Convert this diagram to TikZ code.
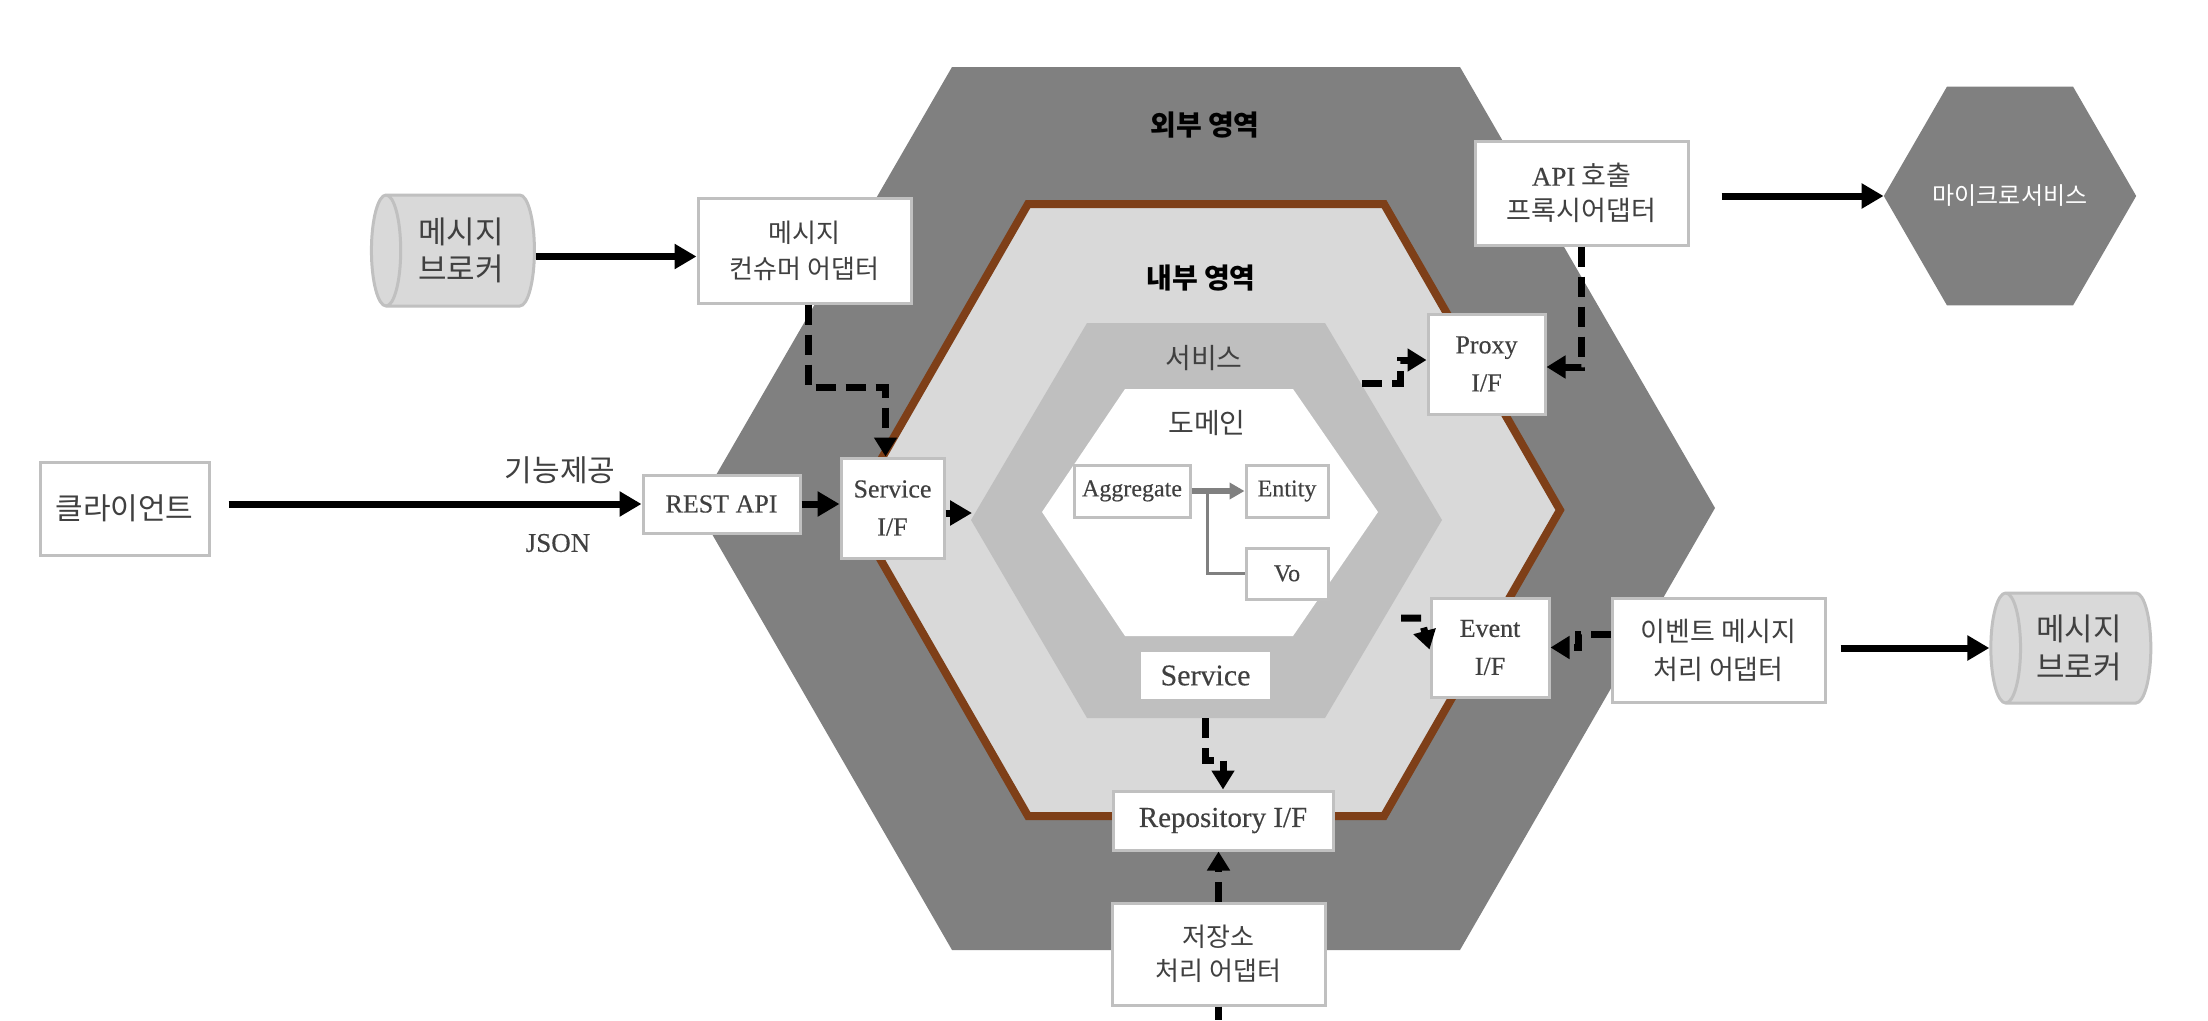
\documentclass[tikz,border=0pt]{standalone}
\usepackage{fontspec}
\setmainfont{Liberation Serif}[FakeBold=0.3]
\newfontfamily\kr{Noto Sans CJK KR}
\usetikzlibrary{arrows.meta,shapes.geometric}
\definecolor{outerg}{HTML}{808080}
\definecolor{innerg}{HTML}{D9D9D9}
\definecolor{svcg}{HTML}{BFBFBF}
\definecolor{brd}{HTML}{C0C0C0}
\definecolor{hexbrown}{HTML}{7E3F18}
\definecolor{txt}{HTML}{404040}
\newcommand\fk[2]{\kr\fontsize{#1}{#2}\selectfont}
\newcommand\fs[2]{\rmfamily\fontsize{#1}{#2}\selectfont}
\begin{document}
\begin{tikzpicture}[x=1pt,y=-1pt,
  box/.style={draw=brd, line width=3pt, fill=white, inner sep=0pt, text=txt, align=center},
  cyl/.style={shape=cylinder, shape border rotate=180, aspect=0.45, draw=brd, line width=3pt, fill=innerg, inner sep=0pt, text=txt, align=center},
  arr/.style={line width=7pt, -{Triangle[length=22pt,width=24pt]}},
  darr/.style={line width=7pt, dash pattern=on 20pt off 10pt, -{Triangle[length=19pt,width=22pt]}},
  garr/.style={draw=outerg, line width=6pt, -{Triangle[length=15pt,width=16pt]}},
  gline/.style={draw=outerg, line width=3.5pt},
  lbl/.style={inner sep=0pt, text=txt, align=center}
]
\useasboundingbox (0,0) rectangle (2208,1020);
\fill[white] (0,0) rectangle (2208,1020);

% hexagons
\fill[outerg] (952,67) -- (1460,67) -- (1715,508) -- (1460,950) -- (952,950) -- (697,508) -- cycle;
\filldraw[fill=innerg, draw=hexbrown, line width=8pt] (1028,204) -- (1384,204) -- (1560,510) -- (1384,816) -- (1028,816) -- (852,510) -- cycle;
\fill[svcg] (1087,323) -- (1325,323) -- (1442,520) -- (1325,718) -- (1087,718) -- (971,520) -- cycle;
\fill[white] (1125,389) -- (1293,389) -- (1378,512) -- (1293,636) -- (1125,636) -- (1042,512) -- cycle;

% region labels
\node[inner sep=0pt, font={\fk{28}{34}\bfseries}] (outerlbl) at (1205,125) {외부 영역};
\node[inner sep=0pt, font={\fk{28}{34}\bfseries}] (innerlbl) at (1201,278) {내부 영역};
\node[lbl, font={\fk{28}{34}}] (svclbl) at (1204,358) {서비스};
\node[lbl, font={\fk{28}{34}}] (domlbl) at (1207,423) {도메인};

% domain boxes
\node[box, minimum width=116pt, minimum height=52pt, font={\fs{24}{28}}] (agg) at (1132,491) {Aggregate};
\node[box, minimum width=82pt, minimum height=52pt, font={\fs{24}{28}}] (ent) at (1287,491) {Entity};
\node[box, minimum width=82pt, minimum height=51pt, font={\fs{24}{28}}] (vo) at (1287,573.5) {Vo};
\draw[garr] (agg.east) -- (ent.west);
\draw[gline] ([xshift=16pt]agg.east) |- (vo.west);

\node[fill=white, inner sep=0pt, minimum width=129pt, minimum height=47pt, text=txt, font={\fs{30}{34}}] (svc) at (1205.5,675.5) {Service};

% interface boxes
\node[box, minimum width=103pt, minimum height=100pt, font={\fs{26}{38}}] (sif) at (892.5,508) {Service\\I/F};
\node[box, minimum width=117pt, minimum height=100pt, font={\fs{26}{38}}] (proxy) at (1486.5,364) {Proxy\\I/F};
\node[box, minimum width=118pt, minimum height=99pt, font={\fs{26}{38}}] (evt) at (1490,647.5) {Event\\I/F};
\node[box, minimum width=220pt, minimum height=59pt, font={\fs{29}{34}}] (repo) at (1223,820.5) {Repository I/F};
\node[box, minimum width=157pt, minimum height=58pt, font={\fs{26}{30}}] (rest) at (721.5,504) {REST API};

% adapters
\node[box, minimum width=169pt, minimum height=93pt, font={\fk{30}{36}}] (client) at (124.5,508.5) {클라이언트};
\node[box, minimum width=213pt, minimum height=105pt, font={\fk{26}{36}}] (cons) at (804.5,250.5) {메시지\\컨슈머 어댑터};
\node[box, minimum width=213pt, minimum height=104pt, font={\fk{27}{35}}] (api) at (1581.5,193) {{\rmfamily API} 호출\\프록시어댑터};
\node[box, minimum width=213pt, minimum height=104pt, font={\fk{27}{38}}] (evtad) at (1718.5,650) {이벤트 메시지\\처리 어댑터};
\node[box, minimum width=213pt, minimum height=102pt, font={\fk{26}{34}}] (stor) at (1218.5,954) {저장소\\처리 어댑터};

\node[cyl, minimum height=163pt, minimum width=111pt, font={\fk{31}{37}}] (cyl1) at (461,250.5) {메시지\\브로커};
\node[cyl, minimum height=160pt, minimum width=110pt, font={\fk{31}{38}}] (cyl2) at (2079,648) {메시지\\브로커};

\node[regular polygon, regular polygon sides=6, minimum size=244pt, fill=outerg, inner sep=0pt, text=white, font={\fk{24}{30}}] (micro) at (2010,196) {마이크로서비스};

% labels on client arrow
\node[lbl, font={\fk{30}{36}}] (lab1) at (560,470) {기능제공};
\node[lbl, font={\fs{27}{30}}] (lab2) at (558,543) {JSON};

% connectors
\draw[arr] ([yshift=-6pt]cyl1.east) -- ([yshift=-6pt]cons.west);
\draw[darr] ([xshift=4pt]cons.south) -- ++(0,83) -| ([xshift=-7pt]sif.north);
\draw[arr] ([xshift=18pt]client.east |- rest.west) -- (rest.west);
\draw[arr] (rest.east) -- (rest.east -| sif.west);
\coordinate (svcW) at (972,513);
\draw[arr] ([yshift=-5pt]sif.east) -- (svcW);
\coordinate (pstart) at (1362,383);
\draw[darr] (pstart) -- ++(38,0) |- ([yshift=4pt]proxy.west);
\draw[darr] (api.south) |- ([yshift=-3pt]proxy.east);
\draw[arr] ([xshift=32pt]api.east |- micro.west) -- (micro.west);
\coordinate (estart) at (1401,618);
\draw[darr] (estart) -- ++(20,0) -- ([yshift=-2pt]evt.west);
\draw[darr] ([yshift=16pt]evtad.west) -- ++(-32,0) |- (evt.east);
\draw[arr] ([xshift=14pt]evtad.east |- cyl2.west) -- (cyl2.west);
\draw[darr] ([yshift=-19pt]svc.south) -- ++(0,42) -| (repo.north);
\draw[darr] (stor.north) -- (stor.north |- repo.south);
\coordinate (bot) at (1221,1020);
\draw[line width=7pt] (stor.south) -- (stor.south |- bot);
\end{tikzpicture}
\end{document}
